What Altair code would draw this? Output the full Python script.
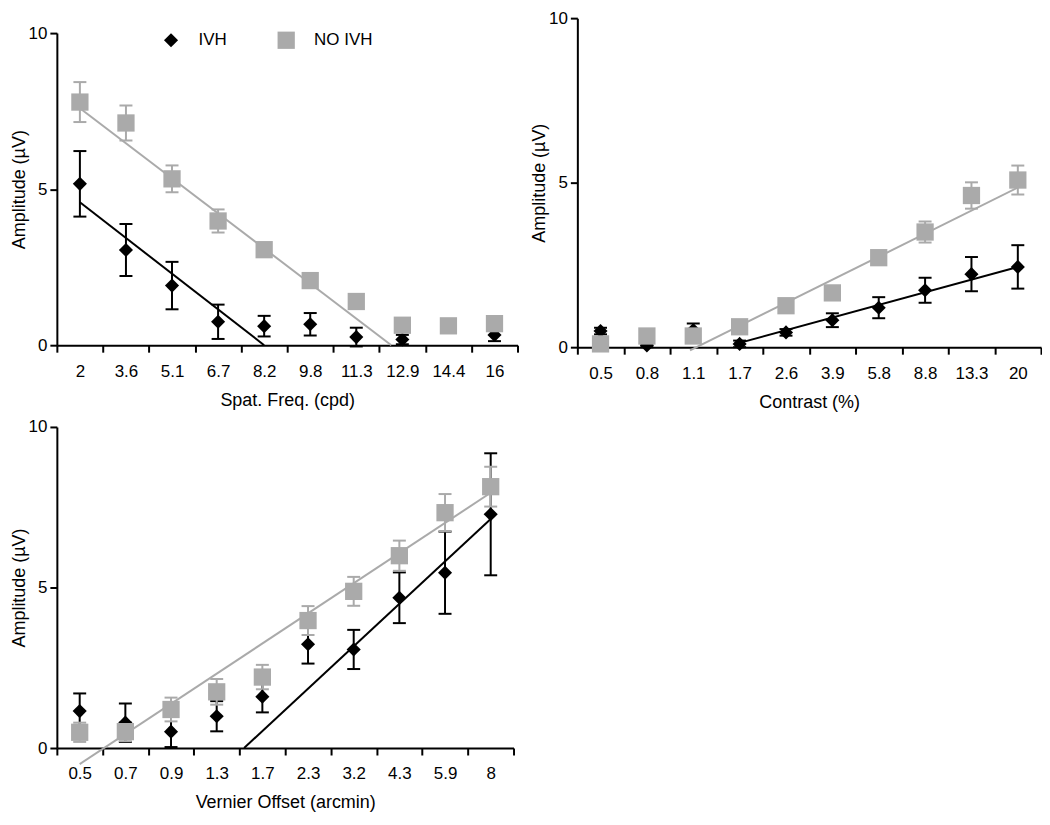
import altair as alt
import pandas as pd

FONT = "Liberation Sans"
GROUPS = ["IVH", "NO IVH"]
COLORS = ["#000000", "#aaaaaa"]
SHAPES = ["diamond", "square"]
SIZES = [200, 300]

# Panel 1: spatial frequency
sf_labels = ["2", "3.6", "5.1", "6.7", "8.2", "9.8", "11.3", "12.9", "14.4", "16"]
sf_ivh = [5.17, 3.05, 1.91, 0.75, 0.61, 0.67, 0.26, 0.18, 0.62, 0.33]
sf_ivh_err = [1.05, 0.83, 0.76, 0.55, 0.33, 0.36, 0.30, 0.15, 0.05, 0.20]
sf_noivh = [7.79, 7.12, 5.33, 3.98, 3.06, 2.07, 1.40, 0.64, 0.62, 0.69]
sf_noivh_err = [0.64, 0.56, 0.43, 0.37, 0.20, 0.10, 0.10, 0.08, 0.08, 0.10]
sf_fit_ivh_x = [0.0, 4.0]
sf_fit_ivh_y = [4.58, 0.0]
sf_fit_noivh_x = [0.0, 6.76]
sf_fit_noivh_y = [7.59, 0.0]

# Panel 2: contrast
ct_labels = ["0.5", "0.8", "1.1", "1.7", "2.6", "3.9", "5.8", "8.8", "13.3", "20"]
ct_ivh = [0.49, 0.05, 0.52, 0.10, 0.45, 0.82, 1.20, 1.73, 2.22, 2.44]
ct_ivh_err = [0.10, 0.05, 0.20, 0.10, 0.10, 0.21, 0.32, 0.38, 0.52, 0.66]
ct_noivh = [0.10, 0.34, 0.34, 0.62, 1.26, 1.65, 2.72, 3.50, 4.61, 5.08]
ct_noivh_err = [0.05, 0.05, 0.05, 0.08, 0.08, 0.08, 0.10, 0.32, 0.40, 0.44]
ct_fit_ivh_x = [3.0, 9.0]
ct_fit_ivh_y = [0.13, 2.44]
ct_fit_noivh_x = [1.93, 9.0]
ct_fit_noivh_y = [-0.1, 4.85]

# Panel 3: vernier offset
vn_labels = ["0.5", "0.7", "0.9", "1.3", "1.7", "2.3", "3.2", "4.3", "5.9", "8"]
vn_ivh = [1.15, 0.79, 0.51, 0.99, 1.60, 3.23, 3.07, 4.68, 5.46, 7.28]
vn_ivh_err = [0.55, 0.60, 0.48, 0.47, 0.49, 0.60, 0.61, 0.79, 1.28, 1.90]
vn_noivh = [0.49, 0.51, 1.20, 1.75, 2.21, 3.97, 4.88, 5.99, 7.33, 8.14]
vn_noivh_err = [0.30, 0.30, 0.37, 0.40, 0.38, 0.45, 0.45, 0.47, 0.58, 0.62]
vn_fit_ivh_x = [3.6, 9.0]
vn_fit_ivh_y = [0.0, 7.13]
vn_fit_noivh_x = [0.0, 9.0]
vn_fit_noivh_y = [-0.5, 7.95]

y_ticks = [0, 5, 10]


def make_panel(labels, ivh, ivh_err, noivh, noivh_err,
               fit_ivh_x, fit_ivh_y, fit_no_x, fit_no_y,
               xtitle, width, height, top_gap=0, show_legend=False):
    n = len(labels)
    rows = []
    for g, vals, errs in ((GROUPS[0], ivh, ivh_err), (GROUPS[1], noivh, noivh_err)):
        for i, (v, e) in enumerate(zip(vals, errs)):
            rows.append({"idx": i, "value": v, "lo": v - e, "hi": v + e, "group": g})
    df = pd.DataFrame(rows)
    fits = pd.DataFrame([
        {"group": GROUPS[0], "x0": fit_ivh_x[0], "x1": fit_ivh_x[1],
         "y0": fit_ivh_y[0], "y1": fit_ivh_y[1]},
        {"group": GROUPS[1], "x0": fit_no_x[0], "x1": fit_no_x[1],
         "y0": fit_no_y[0], "y1": fit_no_y[1]},
    ])

    # ticks sit on the category boundaries; each label is shifted back to its band centre
    label_js = "[" + ",".join("'%s'" % s for s in labels) + "]"
    x_scale = alt.Scale(domain=[-0.5, n - 0.5], nice=False, zero=False)
    x_axis = alt.Axis(
        values=[i - 0.5 for i in range(n + 1)],
        labelExpr="datum.value < 0 ? '' : %s[round(datum.value - 0.5)]" % label_js,
        labelOffset=-width / n / 2,
        labelFlush=False,
        labelOverlap=False,
        title=xtitle,
    )
    y_scale = alt.Scale(domain=[0, 10], range=[height, top_gap], nice=False, zero=False)
    y_axis = alt.Axis(values=y_ticks, title="Amplitude (µV)", labelOverlap=False)

    def X(f):
        return alt.X(f, type="quantitative", scale=x_scale, axis=x_axis)

    def Y(f):
        return alt.Y(f, type="quantitative", scale=y_scale, axis=y_axis)

    base = alt.Chart(df)
    layers = []
    for g, col in zip(GROUPS, COLORS):
        sub = base.transform_filter(alt.datum.group == g)
        layers.append(sub.mark_rule(color=col, strokeWidth=2).encode(
            x=X("idx"), y=Y("lo"), y2="hi:Q"))
        for f in ("lo", "hi"):
            layers.append(sub.mark_tick(color=col, orient="horizontal", size=13,
                                        thickness=2, opacity=1).encode(x=X("idx"), y=Y(f)))
        layers.append(
            alt.Chart(fits).transform_filter(alt.datum.group == g)
            .mark_rule(color=col, strokeWidth=2)
            .encode(x=X("x0"), x2="x1:Q", y=Y("y0"), y2="y1:Q")
        )

    if show_legend:
        leg = alt.Legend(
            title=None, orient="none", legendX=106, legendY=13,
            direction="horizontal", labelFontSize=17, labelFont=FONT,
            labelColor="black", labelOffset=19, columnPadding=50,
            symbolSize=225, symbolStrokeWidth=0, padding=0,
        )
    else:
        leg = None

    points = base.mark_point(filled=True, opacity=1).encode(
        x=X("idx"),
        y=Y("value"),
        color=alt.Color("group:N", scale=alt.Scale(domain=GROUPS, range=COLORS), legend=leg),
        shape=alt.Shape("group:N", scale=alt.Scale(domain=GROUPS, range=SHAPES), legend=leg),
        size=alt.Size("group:N", scale=alt.Scale(domain=GROUPS, range=SIZES), legend=None),
    )
    layers.append(points)
    return alt.layer(*layers).properties(width=width, height=height)


p1 = make_panel(sf_labels, sf_ivh, sf_ivh_err, sf_noivh, sf_noivh_err,
                sf_fit_ivh_x, sf_fit_ivh_y, sf_fit_noivh_x, sf_fit_noivh_y,
                "Spat. Freq. (cpd)", 462, 328, top_gap=15, show_legend=True)
p2 = make_panel(ct_labels, ct_ivh, ct_ivh_err, ct_noivh, ct_noivh_err,
                ct_fit_ivh_x, ct_fit_ivh_y, ct_fit_noivh_x, ct_fit_noivh_y,
                "Contrast (%)", 465, 330)
p3 = make_panel(vn_labels, vn_ivh, vn_ivh_err, vn_noivh, vn_noivh_err,
                vn_fit_ivh_x, vn_fit_ivh_y, vn_fit_noivh_x, vn_fit_noivh_y,
                "Vernier Offset (arcmin)", 458, 322)

indep = dict(color="independent", shape="independent", size="independent")
top = alt.hconcat(p1, p2, spacing=12).resolve_scale(**indep).resolve_legend(**indep)
chart = (
    alt.vconcat(top, p3, spacing=7)
    .resolve_scale(**indep)
    .resolve_legend(**indep)
    .properties(padding={"left": 2, "top": 0, "right": 0, "bottom": 0})
    .configure(font=FONT)
    .configure_view(stroke=None)
    .configure_axis(
        domainColor="black", domainWidth=2, tickColor="black", tickWidth=2,
        tickSize=7, labelFontSize=17, labelColor="black", titleFontSize=18,
        titleFontWeight="normal", titleColor="black", grid=False,
        labelFont=FONT, titleFont=FONT,
    )
    .configure_axisX(labelPadding=11, titlePadding=12)
    .configure_axisY(labelPadding=3, titlePadding=0)
)

chart.save("out.html", embed_options={"renderer": "svg", "actions": False})
